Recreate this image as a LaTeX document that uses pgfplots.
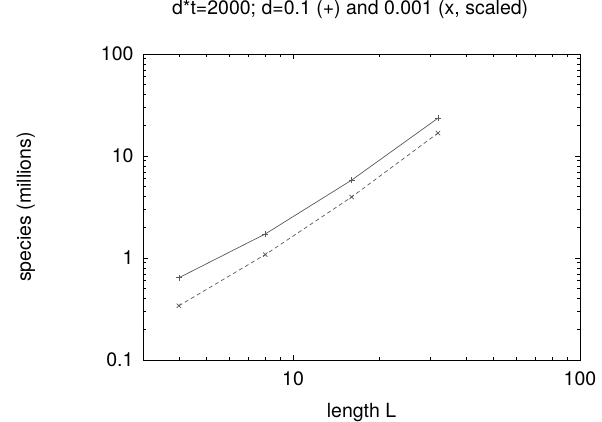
\documentclass[border=0pt]{standalone}
\usepackage{fontspec}
\setmainfont{TeX Gyre Heros}
\usepackage{pgfplots}
\pgfplotsset{compat=1.18}

\begin{document}
\begin{tikzpicture}
  % page = 602 x 421, axis box 437 x 306 placed at (143,61) from lower left
  \path[use as bounding box] (-143pt,-61pt) rectangle (459pt,360pt);
  \begin{axis}[
    at={(0pt,0pt)}, anchor=south west,
    scale only axis,
    width=437pt, height=306pt,
    xmode=log, ymode=log,
    xmin=3, xmax=100,
    ymin=0.1, ymax=100,
    xtick={10,100}, xticklabels={10,100},
    ytick={0.1,1,10,100}, yticklabels={0.1,1,10,100},
    minor xtick={4,5,6,7,8,9,20,30,40,50,60,70,80,90},
    minor ytick={0.2,0.3,0.4,0.5,0.6,0.7,0.8,0.9,2,3,4,5,6,7,8,9,20,30,40,50,60,70,80,90},
    major tick length=5pt, minor tick length=3pt,
    tick style={black, line width=0.6pt},
    axis line style={line width=0.8pt},
    ticklabel style={font=\fontsize{19.5}{22}\selectfont},
    xticklabel style={yshift=-8pt},
    yticklabel style={xshift=-6pt},
    title={d*t=2000; d=0.1 (+) and 0.001 (x, scaled)},
    title style={at={(axis description cs:0.474,1)}, anchor=center, yshift=39pt,
      font=\fontsize{19.5}{22}\selectfont},
    xlabel={length L},
    xlabel style={at={(axis description cs:0.5,-0.17)}, anchor=center,
      font=\fontsize{19.5}{22}\selectfont},
    ylabel={species (millions)},
    ylabel style={at={(axis description cs:-0.2677,0.5)}, anchor=center,
      font=\fontsize{19.5}{22}\selectfont},
  ]
    \addplot[black!65, line width=0.7pt, mark=+, mark size=3pt]
      coordinates {(4,0.64) (8,1.72) (16,5.8) (32,23.5)};
    \addplot[black!65, line width=0.7pt, dash pattern=on 4pt off 3pt,
      mark=x, mark size=3pt, mark options={solid}]
      coordinates {(4,0.34) (8,1.08) (16,3.96) (32,16.8)};
  \end{axis}
\end{tikzpicture}
\end{document}
